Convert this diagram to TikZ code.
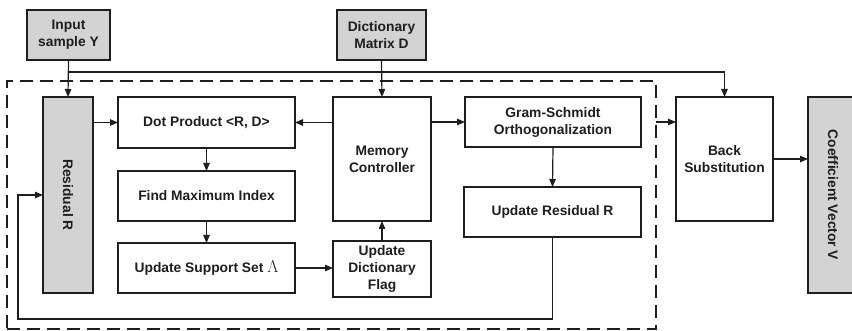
\documentclass[tikz,border=0pt]{standalone}
\usepackage{fontspec}
\setmainfont{Liberation Sans}
\usetikzlibrary{arrows.meta}
\definecolor{boxgray}{RGB}{211,211,211}
\definecolor{ink}{RGB}{30,30,30}
\tikzset{
  blk/.style={draw=ink, line width=1.2pt, inner sep=0pt, outer sep=0pt, align=center,
    font=\fontsize{13.8}{17}\selectfont\bfseries, text=ink},
  grayblk/.style={blk, fill=boxgray},
  lbl/.style={inner sep=0pt, align=center, font=\fontsize{13.8}{17}\selectfont\bfseries, text=ink},
  conn/.style={draw=ink, line width=1.2pt, -{Triangle[length=8pt,width=6.5pt]}},
  wire/.style={draw=ink, line width=1.2pt},
  region/.style={draw=ink, line width=1.7pt, dash pattern=on 13pt off 7pt, inner sep=0pt, outer sep=0pt}
}
\begin{document}
\begin{tikzpicture}[x=1pt,y=-1pt]
\useasboundingbox (0,0) rectangle (852,331);

% enclosing region of the iterative core
\node[region, minimum width=649pt, minimum height=248pt] (core) at (331.5,205) {};

% inputs
\node[grayblk, minimum width=83pt, minimum height=50pt] (inp) at (68.5,35) {Input\\sample Y};
\node[grayblk, minimum width=89pt, minimum height=50pt] (dict) at (381.5,35) {Dictionary\\Matrix D};

% residual register
\node[grayblk, minimum width=50pt, minimum height=196pt] (res) at (68,195) {};
\node[lbl, rotate=-90] (resT) at (res.center) {Residual R};

% processing blocks
\node[blk, minimum width=177pt, minimum height=51pt] (dp) at (206.5,122.5) {Dot Product <R, D>};
\node[blk, minimum width=177pt, minimum height=50pt] (fm) at (206.5,196) {Find Maximum Index};
\node[blk, minimum width=177pt, minimum height=50pt] (us) at (206.5,268) {Update Support Set {\fontsize{16}{17}\selectfont$\Lambda$}};
\node[blk, minimum width=98pt, minimum height=124pt] (mc) at (382,159) {Memory\\Controller};
\node[blk, minimum width=98pt, minimum height=56pt] (udf) at (382,269) {Update\\Dictionary\\Flag};
\node[blk, minimum width=176pt, minimum height=50pt] (gs) at (553,122) {Gram-Schmidt\\Orthogonalization};
\node[blk, minimum width=177pt, minimum height=50pt] (urr) at (552.5,212) {Update Residual R};

% output stage
\node[blk, minimum width=97pt, minimum height=124pt] (bs) at (724.5,159) {Back\\Substitution};
\node[grayblk, minimum width=50pt, minimum height=196pt] (cv) at (833,195) {};
\node[lbl, rotate=-90] (cvT) at (cv.center) {Coefficient Vector V};

% connectors
\coordinate (split) at (68,72);
\coordinate (fb) at (18,319);
\draw[conn] (inp.south) -- (res.north);
\draw[conn] (split) -| (bs.north);
\draw[conn] (dict.south) -- (mc.north);
\draw[conn] (res.east |- dp.west) -- (dp.west);
\draw[conn] (mc.west |- dp.east) -- (dp.east);
\draw[conn] (mc.east |- gs.west) -- (gs.west);
\draw[conn] (dp.south) -- (fm.north);
\draw[conn] (fm.south) -- (us.north);
\draw[conn] (us.east) -- (us.east -| udf.west);
\draw[conn] (udf.north) -- (mc.south);
\draw[conn] (gs.south) -- (urr.north);
\draw[conn] (urr.south) |- (fb) |- (res.west);
\draw[conn] (core.east |- gs.east) -- (bs.west |- gs.east);
\draw[conn] (bs.east) -- (bs.east -| cv.west);
\end{tikzpicture}
\end{document}
